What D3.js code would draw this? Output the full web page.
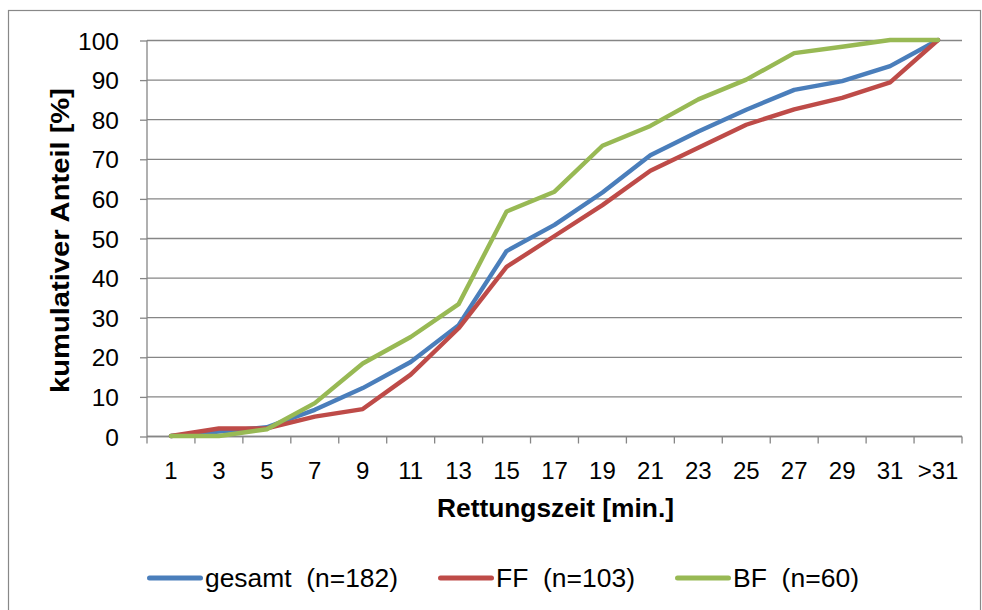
<!DOCTYPE html>
<html><head><meta charset="utf-8">
<script src="https://cdn.jsdelivr.net/npm/d3@7/dist/d3.min.js"></script>
<style>body{margin:0;background:#fff}svg{display:block;font-family:Arial,"Liberation Sans",sans-serif}</style>
</head><body><svg id="c" width="982" height="610"></svg>
<script>
const categories = ["1","3","5","7","9","11","13","15","17","19","21","23","25","27","29","31",">31"];
const gesamt = [0,1.1,2.2,6.6,12.1,18.7,28.0,46.7,53.3,61.5,70.9,76.9,82.4,87.4,89.6,93.4,100];
const ff = [0,1.9,1.9,4.9,6.8,15.5,27.2,42.7,50.5,58.3,67.0,72.8,78.6,82.5,85.4,89.3,100];
const bf = [0,0,1.7,8.3,18.3,25.0,33.3,56.7,61.7,73.3,78.3,85.0,90.0,96.7,98.3,100,100];
const yTicks = [0,10,20,30,40,50,60,70,80,90,100];
const seriesNames = ["gesamt  (n=182)","FF  (n=103)","BF  (n=60)"];
const colors = ["#4A7EBB","#BE4B48","#98B954"];

const FONT = "Arial,'Liberation Sans',sans-serif";
const svg = d3.select("#c");
svg.append("rect").attr("x",8.5).attr("y",10.5).attr("width",972).attr("height",620)
  .attr("fill","#fff").attr("stroke","#888").attr("stroke-width",1.2);

const L=147, R=962, T=40, B=436;
const x = d3.scaleBand().domain(categories).range([L,R]);
const y = d3.scaleLinear().domain([0,100]).range([B,T]);

// grid
svg.append("g").selectAll("line").data(yTicks).join("line")
  .attr("x1",L).attr("x2",R).attr("y1",d=>y(d)+0.5).attr("y2",d=>y(d)+0.5)
  .attr("stroke","#868686").attr("stroke-width",1.3);

// y axis
const ya = svg.append("g").attr("transform",`translate(${L},0.5)`)
  .call(d3.axisLeft(y).tickValues(yTicks).tickSize(7).tickPadding(21));
ya.select(".domain").attr("stroke","#868686").attr("stroke-width",1.3).attr("d",`M0,${T}V${B}`);
ya.selectAll(".tick line").attr("stroke","#868686").attr("stroke-width",1.3);
ya.selectAll("text").attr("font-size","24.5px").attr("fill","#000").attr("font-family",FONT).attr("dy","0.35em");

// x axis
const xa = svg.append("g").attr("transform",`translate(0,${B+0.5})`)
  .call(d3.axisBottom(x).tickSize(0).tickPadding(0));
xa.select(".domain").attr("stroke","#868686").attr("stroke-width",1.3).attr("d",`M${L},0H${R}`);
xa.selectAll("text").attr("font-size","24px").attr("fill","#000").attr("font-family",FONT)
  .attr("dy",null).attr("y",42);
const bounds = categories.map((c,i)=>x(c)).concat([R]);
xa.append("g").selectAll("line").data(bounds).join("line")
  .attr("x1",d=>d).attr("x2",d=>d).attr("y1",0).attr("y2",7)
  .attr("stroke","#868686").attr("stroke-width",1.3);

// lines
const line = d3.line().x((d,i)=>x(categories[i])+x.bandwidth()/2).y(d=>y(d));
[gesamt,ff,bf].forEach((s,k)=>{
  svg.append("path").attr("d",line(s)).attr("fill","none").attr("stroke",colors[k])
    .attr("stroke-width",4.4).attr("stroke-linejoin","round").attr("stroke-linecap","round");
});

// titles
svg.append("text").attr("x",437).attr("y",516.5)
  .attr("font-size","25px").attr("font-weight","bold")
  .attr("textLength",237).attr("lengthAdjust","spacingAndGlyphs").text("Rettungszeit [min.]");
svg.append("text").attr("transform","translate(68.5,393) rotate(-90)")
  .attr("font-size","25.5px").attr("font-weight","bold")
  .attr("textLength",305).attr("lengthAdjust","spacingAndGlyphs").text("kumulativer Anteil [%]");

// legend
const legX = [147,438,675];
const legW = [193,139,126];
seriesNames.forEach((n,k)=>{
  svg.append("line").attr("x1",legX[k]+2.5).attr("x2",legX[k]+53.5).attr("y1",578).attr("y2",578)
    .attr("stroke",colors[k]).attr("stroke-width",5).attr("stroke-linecap","round");
  svg.append("text").attr("x",legX[k]+58).attr("y",586.5).attr("font-size","26px")
    .attr("textLength",legW[k]).attr("lengthAdjust","spacingAndGlyphs")
    .style("white-space","pre").text(n);
});
</script></body></html>
